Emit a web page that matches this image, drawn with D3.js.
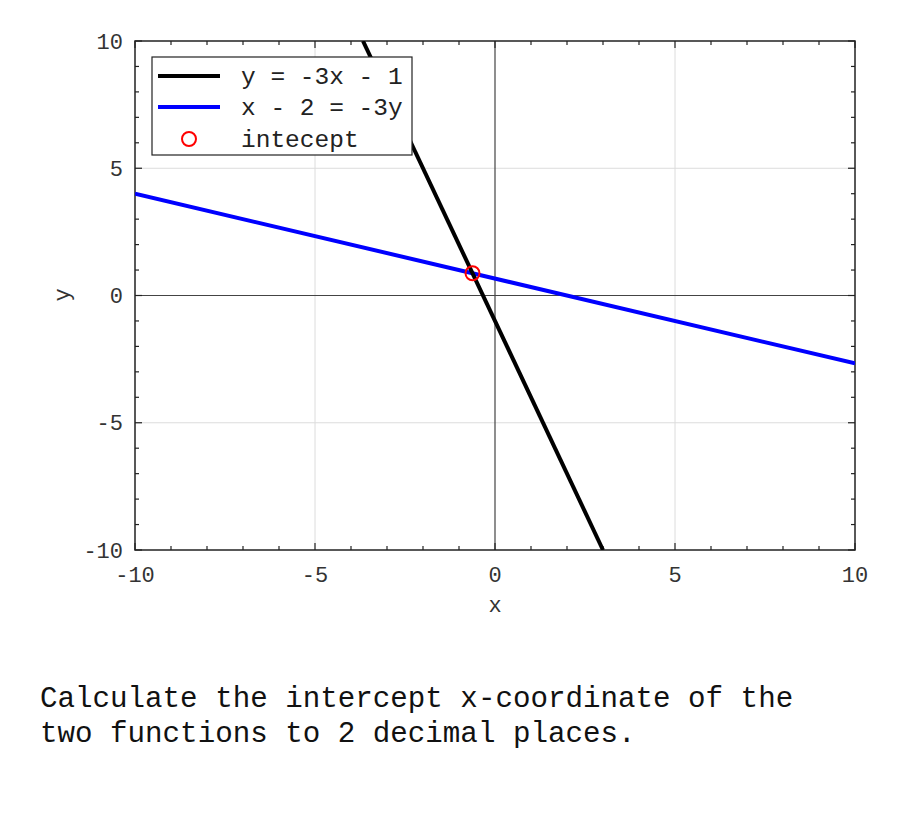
<!DOCTYPE html>
<html><head><meta charset="utf-8">
<script src="https://cdn.jsdelivr.net/npm/d3@7"></script>
<style>body{margin:0;background:#fff}svg{display:block}text{font-family:"Liberation Mono","DejaVu Sans Mono",monospace}</style>
</head><body><svg id="c" width="900" height="825"></svg>
<script>
const xDomain = [-10, 10];
const yDomain = [-10, 10];
const majorTicks = [-10, -5, 0, 5, 10];
const minorTicks = [-9,-8,-7,-6,-4,-3,-2,-1,1,2,3,4,6,7,8,9];
const gridTicks = [-5, 5];
const seriesNames = ["y = -3x - 1", "x - 2 = -3y", "intecept"];
const line1X = [-3.667, 3];
const line1Y = [10, -10];
const line2X = [-10, 10];
const line2Y = [4, -2.667];
const interceptX = [-0.625];
const interceptY = [0.875];
const questionLines = ["Calculate the intercept x-coordinate of the", "two functions to 2 decimal places."];

const svg = d3.select("#c");
const L = 135, R = 855, T = 41, B = 550;
const x = d3.scaleLinear().domain(xDomain).range([L, R]);
const y = d3.scaleLinear().domain(yDomain).range([B, T]);

svg.append("defs").append("clipPath").attr("id","clip").append("rect")
  .attr("x",L).attr("y",T).attr("width",R-L).attr("height",B-T);

// grid
const g = svg.append("g");
gridTicks.forEach(v=>{
  g.append("line").attr("x1",x(v)).attr("x2",x(v)).attr("y1",T).attr("y2",B).attr("stroke","#dcdcdc").attr("stroke-width",1);
  g.append("line").attr("y1",y(v)).attr("y2",y(v)).attr("x1",L).attr("x2",R).attr("stroke","#dcdcdc").attr("stroke-width",1);
});
// zero lines
g.append("line").attr("x1",x(0)).attr("x2",x(0)).attr("y1",T).attr("y2",B).attr("stroke","#444").attr("stroke-width",1.2);
g.append("line").attr("y1",y(0)).attr("y2",y(0)).attr("x1",L).attr("x2",R).attr("stroke","#444").attr("stroke-width",1.2);

// ticks inward on all sides
const tk = svg.append("g").attr("stroke","#222").attr("stroke-width",1.2);
function ticks(vals, len){
  vals.forEach(v=>{
    tk.append("line").attr("x1",x(v)).attr("x2",x(v)).attr("y1",B).attr("y2",B-len);
    tk.append("line").attr("x1",x(v)).attr("x2",x(v)).attr("y1",T).attr("y2",T+len);
    tk.append("line").attr("y1",y(v)).attr("y2",y(v)).attr("x1",L).attr("x2",L+len);
    tk.append("line").attr("y1",y(v)).attr("y2",y(v)).attr("x1",R).attr("x2",R-len);
  });
}
ticks(minorTicks, 4);
ticks(majorTicks, 7);

// frame
svg.append("rect").attr("x",L).attr("y",T).attr("width",R-L).attr("height",B-T)
  .attr("fill","none").attr("stroke","#222").attr("stroke-width",1.5);

// tick labels
majorTicks.forEach(v=>{
  svg.append("text").attr("x",x(v)).attr("y",B+32).attr("text-anchor","middle")
    .attr("font-size",22).attr("fill","#333").text(String(v));
  svg.append("text").attr("x",123).attr("y",y(v)+7.5).attr("text-anchor","end")
    .attr("font-size",22).attr("fill","#333").text(String(v));
});
svg.append("text").attr("x",x(0)).attr("y",612).attr("text-anchor","middle").attr("font-size",22).attr("fill","#333").text("x");
svg.append("text").attr("transform","translate(69,295) rotate(-90)").attr("text-anchor","middle").attr("font-size",22).attr("fill","#333").text("y");

// lines
const pl = svg.append("g").attr("clip-path","url(#clip)");
const lineGen = d3.line().x(d=>x(d[0])).y(d=>y(d[1]));
pl.append("path").datum(line2X.map((v,i)=>[v,line2Y[i]])).attr("d",lineGen).attr("stroke","#0000ff").attr("stroke-width",4).attr("fill","none");
pl.append("path").datum(line1X.map((v,i)=>[v,line1Y[i]])).attr("d",lineGen).attr("stroke","#000").attr("stroke-width",4).attr("fill","none");
pl.selectAll("circle.i").data(interceptX.map((v,i)=>[v,interceptY[i]])).join("circle")
  .attr("cx",d=>x(d[0])).attr("cy",d=>y(d[1])).attr("r",7).attr("fill","none").attr("stroke","#ff0000").attr("stroke-width",2);

// legend
const lg = svg.append("g");
lg.append("rect").attr("x",152).attr("y",57).attr("width",260).attr("height",98).attr("fill","#fff").attr("stroke","#222").attr("stroke-width",1.2);
const rows = [76, 107, 139];
lg.append("line").attr("x1",158).attr("x2",220).attr("y1",rows[0]).attr("y2",rows[0]).attr("stroke","#000").attr("stroke-width",4);
lg.append("line").attr("x1",158).attr("x2",220).attr("y1",rows[1]).attr("y2",rows[1]).attr("stroke","#0000ff").attr("stroke-width",4);
lg.append("circle").attr("cx",189).attr("cy",rows[2]).attr("r",7).attr("fill","none").attr("stroke","#ff0000").attr("stroke-width",2);
seriesNames.forEach((s,i)=>{
  lg.append("text").attr("x",241).attr("y",rows[i]+8).attr("font-size",24.5).attr("fill","#222").attr("xml:space","preserve").text(s);
});

// question text
questionLines.forEach((s,i)=>{
  svg.append("text").attr("x",40).attr("y",707+i*35).attr("font-size",29.2).attr("fill","#111").text(s);
});
</script></body></html>
